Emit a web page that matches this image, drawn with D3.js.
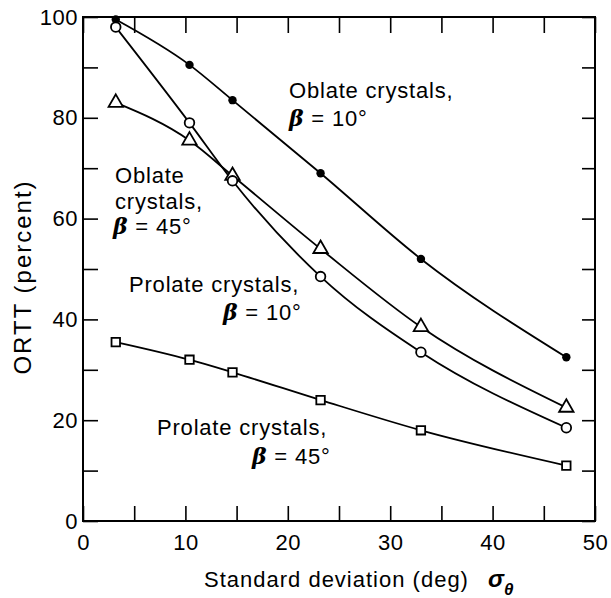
<!DOCTYPE html>
<html>
<head>
<meta charset="utf-8">
<script src="https://cdn.jsdelivr.net/npm/d3@7"></script>
<style>
  html, body { margin: 0; padding: 0; background: #fff; }
  svg { display: block; }
  text { font-family: "Liberation Sans", Arial, Helvetica, sans-serif; fill: #000; }
</style>
</head>
<body>
<svg id="chart" width="611" height="598"></svg>
<script>
// Standard deviation of canting angle (deg) at which ORTT was computed
const sigma = [3.2, 10.4, 14.6, 23.2, 33, 47.2];

// ORTT (percent) for each crystal type / beta
const oblate10  = [99.5, 90.5, 83.5, 69, 52, 32.5];
const oblate45  = [83, 75.5, 68.5, 54, 38.5, 22.5];
const prolate10 = [98, 79, 67.5, 48.5, 33.5, 18.5];
const prolate45 = [35.5, 32, 29.5, 24, 18, 11];

// Axis ticks
const xMinorTicks = d3.range(0, 51, 5);
const xLabelTicks = d3.range(0, 51, 10);
const yMinorTicks = d3.range(0, 101, 10);
const yLabelTicks = d3.range(0, 101, 20);

const svg = d3.select("#chart");
const plot = { left: 83, right: 595, top: 17, bottom: 521 };

const x = d3.scaleLinear().domain([0, 50]).range([plot.left, plot.right]);
const y = d3.scaleLinear().domain([0, 100]).range([plot.bottom, plot.top]);

const FS = 22;

// Frame
svg.append("rect")
  .attr("x", plot.left).attr("y", plot.top)
  .attr("width", plot.right - plot.left).attr("height", plot.bottom - plot.top)
  .attr("fill", "none").attr("stroke", "#000").attr("stroke-width", 2);

function styleAxis(g) {
  g.select(".domain").remove();
  g.selectAll(".tick line").attr("stroke", "#000").attr("stroke-width", 1.6);
  g.selectAll(".tick text").attr("font-size", FS).attr("letter-spacing", 0.5)
    .attr("font-family", "Liberation Sans, Arial, sans-serif").attr("fill", "#000");
}

// Bottom axis: inward ticks every 5, labels every 10
svg.append("g").attr("transform", `translate(0,${plot.bottom})`)
  .call(d3.axisBottom(x).tickValues(xMinorTicks).tickSize(-15).tickPadding(13)
    .tickFormat(d => xLabelTicks.includes(d) ? d : ""))
  .call(styleAxis);

// Top axis: inward ticks only
svg.append("g").attr("transform", `translate(0,${plot.top})`)
  .call(d3.axisTop(x).tickValues(xMinorTicks).tickSize(-16).tickFormat(""))
  .call(styleAxis);

// Left axis: inward ticks every 10, labels every 20
svg.append("g").attr("transform", `translate(${plot.left},0)`)
  .call(d3.axisLeft(y).tickValues(yMinorTicks).tickSize(-15).tickPadding(5)
    .tickFormat(d => yLabelTicks.includes(d) ? d : ""))
  .call(styleAxis);

// Right axis: inward ticks only
svg.append("g").attr("transform", `translate(${plot.right},0)`)
  .call(d3.axisRight(y).tickValues(yMinorTicks).tickSize(-13).tickFormat(""))
  .call(styleAxis);

// Axis titles
svg.append("text")
  .attr("x", 204).attr("y", 587)
  .attr("font-size", FS).attr("letter-spacing", 1)
  .text("Standard deviation (deg)");
const sig = svg.append("text").attr("x", 488).attr("y", 587)
  .attr("font-family", "DejaVu Serif, Liberation Serif, serif")
  .attr("font-style", "italic").attr("font-weight", "bold").attr("font-size", 24);
sig.append("tspan").text("σ");
sig.append("tspan").attr("dy", 8).attr("font-size", 17).text("θ");

svg.append("text")
  .attr("transform", "translate(31,277) rotate(-90)")
  .attr("text-anchor", "middle")
  .attr("font-size", 24).attr("letter-spacing", 2)
  .text("ORTT (percent)");

// Curves
const line = d3.line()
  .x((d, i) => x(sigma[i]))
  .y(d => y(d))
  .curve(d3.curveMonotoneX);

const series = [
  { values: oblate10,  symbol: "dot" },
  { values: oblate45,  symbol: "triangle" },
  { values: prolate10, symbol: "circle" },
  { values: prolate45, symbol: "square" }
];

series.forEach(s => {
  svg.append("path")
    .attr("d", line(s.values))
    .attr("fill", "none").attr("stroke", "#000").attr("stroke-width", 1.8);
});

series.forEach(s => {
  const g = svg.append("g");
  s.values.forEach((v, i) => {
    const cx = x(sigma[i]), cy = y(v);
    if (s.symbol === "dot") {
      g.append("circle").attr("cx", cx).attr("cy", cy).attr("r", 4.2).attr("fill", "#000");
    } else if (s.symbol === "circle") {
      g.append("circle").attr("cx", cx).attr("cy", cy).attr("r", 4.8)
        .attr("fill", "#fff").attr("stroke", "#000").attr("stroke-width", 1.8);
    } else {
      const type = s.symbol === "triangle" ? d3.symbolTriangle : d3.symbolSquare;
      const size = s.symbol === "triangle" ? 90 : 72;
      g.append("path").attr("d", d3.symbol(type, size)())
        .attr("transform", `translate(${cx},${cy})`)
        .attr("fill", "#fff").attr("stroke", "#000").attr("stroke-width", 1.8);
    }
  });
});

// Annotations
function label(lines) {
  lines.forEach(l => {
    const t = svg.append("text").attr("x", l.x).attr("y", l.y)
      .attr("font-size", FS).attr("letter-spacing", 0.8);
    if (l.beta) {
      t.append("tspan").attr("font-style", "italic").attr("font-weight", "bold")
        .attr("font-family", "DejaVu Serif, Liberation Serif, serif").text("β");
      t.append("tspan").text(" = " + l.beta + "°");
    } else {
      t.text(l.text);
    }
  });
}

label([{ x: 289, y: 98, text: "Oblate crystals," }, { x: 289, y: 126, beta: "10" }]);
label([{ x: 115, y: 183, text: "Oblate" }, { x: 115, y: 209, text: "crystals," },
       { x: 113, y: 234, beta: "45" }]);
label([{ x: 129, y: 292, text: "Prolate crystals," }, { x: 223, y: 320, beta: "10" }]);
label([{ x: 157, y: 435, text: "Prolate crystals," }, { x: 252, y: 464, beta: "45" }]);
</script>
</body>
</html>
